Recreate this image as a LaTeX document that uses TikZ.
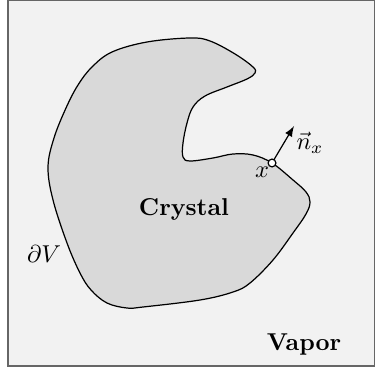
\documentclass[tikz,border=0pt]{standalone}
\begin{document}
\begin{tikzpicture}[x=0.41pt,y=-0.41pt,
  frame/.style={draw=black!60,fill=black!5,line width=0.5pt},
  blob/.style={draw=black,fill=black!15,line width=0.5pt},
  lbl/.style={inner sep=0pt}]
\useasboundingbox (0,0) rectangle (375,377);
\draw[frame] (8,0.7) rectangle (374.3,366);
\draw[blob] plot[smooth cycle,tension=0.6] coordinates {
 (112,52) (147,42) (190,38) (210,41) (235,54) (253,67) (255,73) (247,79)
 (227,87) (205,96) (193,107) (187,123) (183,143) (183,157) (190,161)
 (213,158) (233,154) (253,155) (272,163) (293,180) (306,192) (310,202)
 (306,214) (293,233) (273,260) (250,283) (233,292) (200,300) (143,307)
 (127,308) (107,303) (91,290) (80,273) (67,243) (53,200) (48,167)
 (54,138) (66,108) (78,85) (92,67)};
\coordinate (xp) at (272,163);
\coordinate (tip) at (294,126);
\draw[-latex,line width=0.5pt] (xp) -- (tip);
\node[circle,draw=black,fill=white,inner sep=0pt,minimum size=3.2pt,line width=0.5pt] (xc) at (xp) {};
\node[lbl] (xl) at (262,172) {$x$};
\node[lbl] (nl) at (310,143) {$\vec{n}_x$};
\node[lbl] (dv) at (44,254) {$\partial V$};
\node[lbl] (cr) at (184,209) {\textbf{Crystal}};
\node[lbl] (va) at (304,344) {\textbf{Vapor}};
\end{tikzpicture}
\end{document}
